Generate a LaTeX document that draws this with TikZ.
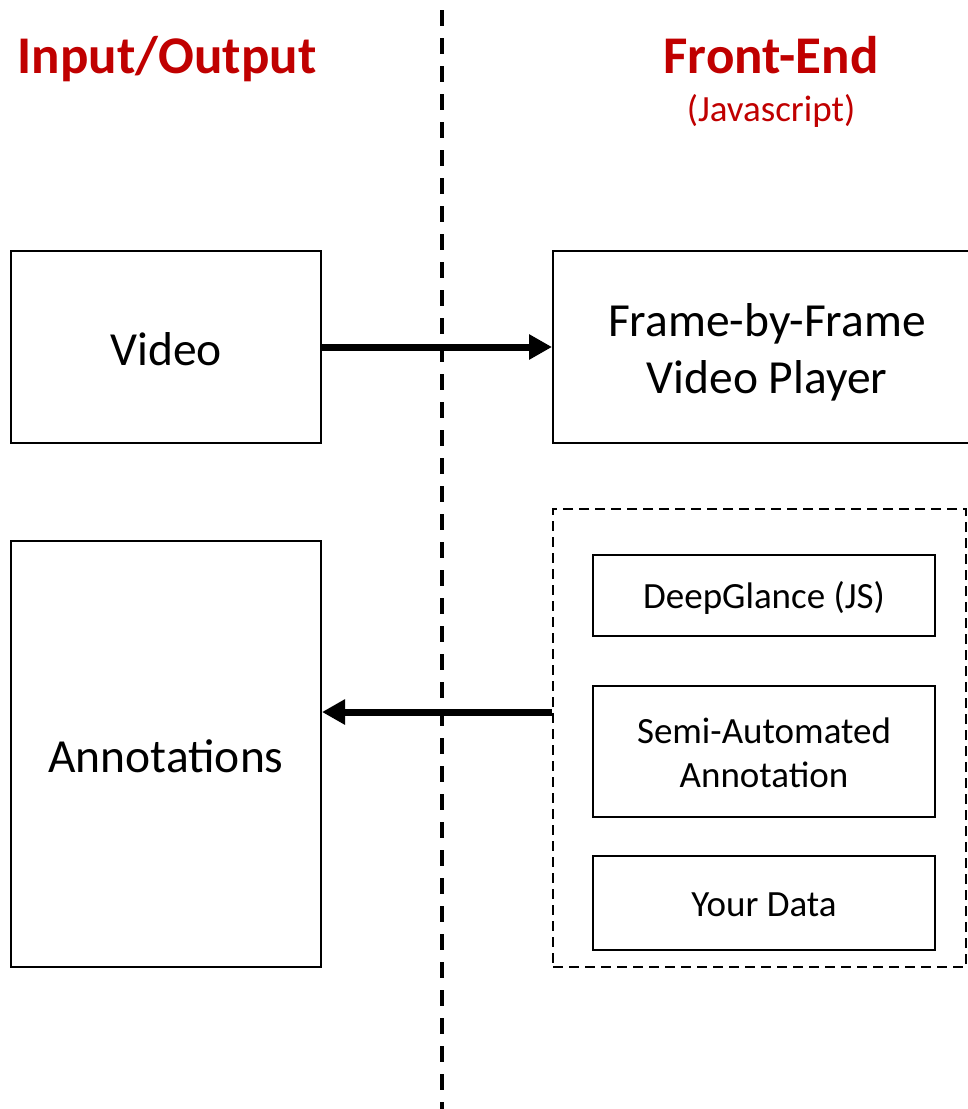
\documentclass[tikz,border=0pt]{standalone}
\usepackage{fontspec}
\setmainfont{Carlito}
\usetikzlibrary{arrows.meta}
\definecolor{titlered}{HTML}{C00000}
\begin{document}
\begin{tikzpicture}[x=1pt,y=-1pt,
  box/.style={draw=black,line width=2pt,inner sep=0pt,align=center},
  bigtext/.style={font=\fontsize{47.5}{57}\selectfont,align=center},
  smalltext/.style={font=\fontsize{37}{44}\selectfont,align=center},
  titletext/.style={text=titlered,font=\fontsize{53}{60}\selectfont\bfseries,anchor=base},
  subtext/.style={text=titlered,font=\fontsize{37}{44}\selectfont},
  flow/.style={line width=7pt,-{Triangle[length=23pt,width=24pt]}}]
\useasboundingbox (0,0) rectangle (968,1109);
\clip (0,0) rectangle (968,1109);
% divider
\coordinate (dtop) at (442,10);
\coordinate (dbot) at (442,1115);
\draw[line width=4pt,dash pattern=on 16pt off 12pt] (dtop) -- (dbot);
% titles
\node[titletext] (tio) at (167,73) {Input/Output};
\node[titletext] (tfe) at (771,73) {Front-End};
\node[subtext] (tjs) at (771,111) {(Javascript)};
% boxes
\node[box,minimum width=310pt,minimum height=192pt] (video) at (166,347) {};
\node[bigtext] (videotext) at (166,349) {Video};
\node[box,minimum width=430pt,minimum height=192pt] (player) at (768,347) {};
\node[bigtext] (playertext) at (767,352) {Frame-by-Frame\\Video Player};
\node[box,minimum width=310pt,minimum height=426pt] (annot) at (166,754) {};
\node[bigtext] (annottext) at (166,756) {Annotations};
\node[draw=black,line width=2pt,dash pattern=on 10pt off 6pt,minimum width=413pt,minimum height=458pt,inner sep=0pt] (group) at (759.5,738) {};
\node[box,minimum width=342pt,minimum height=81pt] (dg) at (764,595.5) {};
\node[smalltext] (dgtext) at (764,598) {DeepGlance (JS)};
\node[box,minimum width=342pt,minimum height=131pt] (semi) at (764,751.5) {};
\node[smalltext] (semitext) at (764,753) {Semi-Automated\\Annotation};
\node[box,minimum width=342pt,minimum height=94pt] (yd) at (764,903) {};
\node[smalltext] (ydtext) at (764,905) {Your Data};
% arrows
\draw[flow] (video.east) -- (video.east -| player.west);
\draw[flow] (group.west |- 0,712) -- (annot.east |- 0,712);
\end{tikzpicture}
\end{document}
